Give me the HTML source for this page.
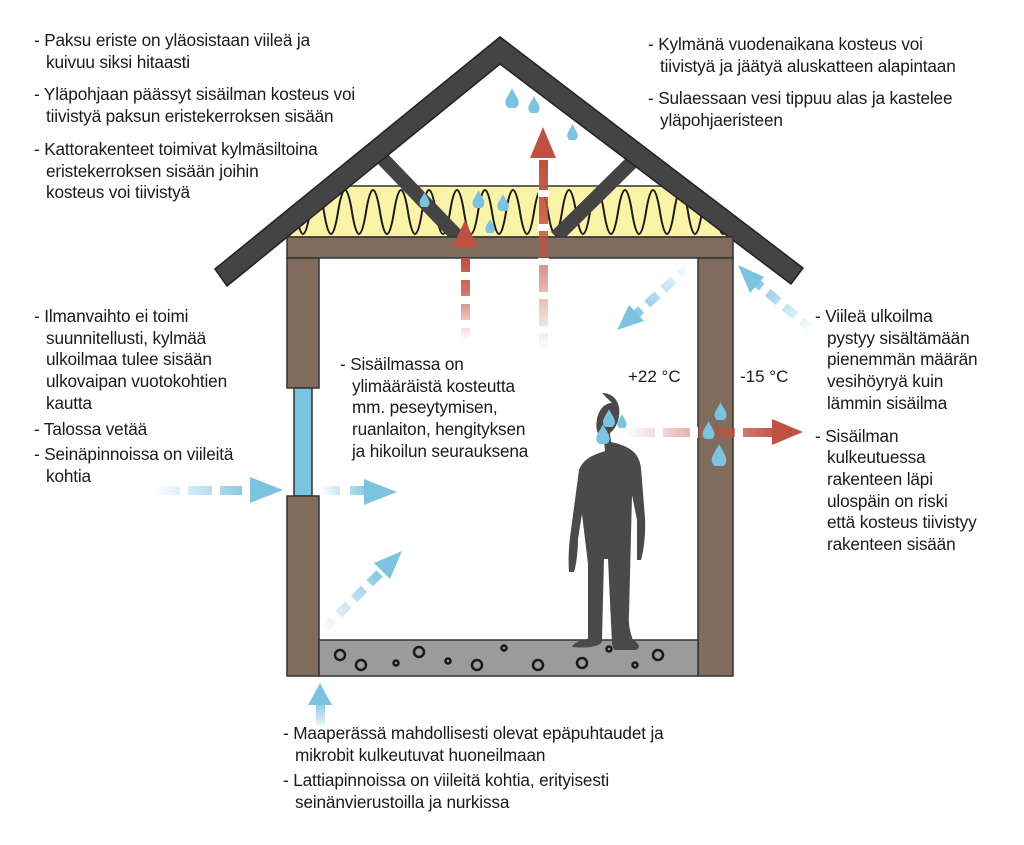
<!DOCTYPE html>
<html><head><meta charset="utf-8"><style>
body{margin:0;width:1024px;height:845px;background:#fff;position:relative;overflow:hidden;font-family:"Liberation Sans",sans-serif;color:#1a1a1a}
.t{position:absolute;font-size:17.2px;line-height:21.7px;letter-spacing:-0.15px;white-space:nowrap}
.t p{margin:0 0 11px 0;padding-left:12px;text-indent:-12px}
svg{position:absolute;left:0;top:0}
</style></head><body>
<svg width="1024" height="845" viewBox="0 0 1024 845">
<defs>
<clipPath id="ins"><polygon points="227,286 500,64 791,284"/></clipPath>
<linearGradient id="ru" x1="0" y1="1" x2="0" y2="0"><stop offset="0" stop-color="#c0503f" stop-opacity="0"/><stop offset="0.6" stop-color="#c0503f" stop-opacity="0.8"/><stop offset="1" stop-color="#c0503f"/></linearGradient>
<linearGradient id="rr" x1="0" y1="0" x2="1" y2="0"><stop offset="0" stop-color="#c0503f" stop-opacity="0"/><stop offset="1" stop-color="#c0503f"/></linearGradient>
<linearGradient id="br" x1="0" y1="0" x2="1" y2="0"><stop offset="0" stop-color="#7cc3e0" stop-opacity="0"/><stop offset="1" stop-color="#7cc3e0"/></linearGradient>
<linearGradient id="bu" x1="0" y1="1" x2="0" y2="0"><stop offset="0" stop-color="#7cc3e0" stop-opacity="0.2"/><stop offset="1" stop-color="#7cc3e0"/></linearGradient>
<linearGradient id="bd1" x1="0" y1="1" x2="1" y2="0"><stop offset="0" stop-color="#7cc3e0" stop-opacity="0"/><stop offset="1" stop-color="#7cc3e0"/></linearGradient>
<linearGradient id="bd2" x1="1" y1="0" x2="0" y2="1"><stop offset="0" stop-color="#7cc3e0" stop-opacity="0"/><stop offset="1" stop-color="#7cc3e0"/></linearGradient>
<linearGradient id="bd3" x1="1" y1="1" x2="0" y2="0"><stop offset="0" stop-color="#7cc3e0" stop-opacity="0"/><stop offset="1" stop-color="#7cc3e0"/></linearGradient>
<symbol id="drop" viewBox="-6 -10 12 18"><path d="M0,-10 C2,-5 6,-1 6,3 A6,6 0 0 1 -6,3 C-6,-1 -2,-5 0,-10Z" fill="#7cc3e0"/></symbol>
</defs>
<g clip-path="url(#ins)">
<rect x="220" y="186" width="580" height="51" fill="#fbf3a8" stroke="#333" stroke-width="1.5"/>
<path d="M282,212 q7,-44 14,0 t14,0 t14,0 t14,0 t14,0 t14,0 t14,0 t14,0 t14,0 t14,0 t14,0 t14,0 t14,0 t14,0 t14,0 t14,0 t14,0 t14,0 t14,0 t14,0 t14,0 t14,0 t14,0 t14,0 t14,0 t14,0 t14,0 t14,0 t14,0 t14,0 t14,0 t14,0 t14,0" fill="none" stroke="#1a1a1a" stroke-width="2"/>
</g>
<line x1="380" y1="156" x2="458" y2="237" stroke="#444" stroke-width="14"/>
<line x1="636" y1="158" x2="556" y2="237" stroke="#444" stroke-width="14"/>
<polygon points="215,269 500,37 803,268 791,284 500,64 227,286" fill="#444" stroke="#222" stroke-width="1.5"/>
<rect x="287" y="237" width="446" height="21" fill="#806c5c" stroke="#333" stroke-width="1.5"/>
<rect x="287" y="258" width="32" height="130" fill="#806c5c" stroke="#333" stroke-width="1.5"/>
<rect x="294" y="388" width="18" height="108" fill="#7cc3e0" stroke="#333" stroke-width="1.5"/>
<rect x="287" y="496" width="32" height="180" fill="#806c5c" stroke="#333" stroke-width="1.5"/>
<rect x="698" y="258" width="35" height="418" fill="#806c5c" stroke="#333" stroke-width="1.5"/>
<rect x="319" y="640" width="379" height="36" fill="#9b9b9b" stroke="#333" stroke-width="1.5"/>
<g fill="none" stroke="#1a1a1a" stroke-width="2.5">
<circle cx="340" cy="655" r="5"/><circle cx="361" cy="665" r="5"/><circle cx="396" cy="663" r="2.5"/><circle cx="419" cy="652" r="5"/><circle cx="448" cy="661" r="2.5"/><circle cx="477" cy="665" r="5"/><circle cx="504" cy="648" r="2.5"/><circle cx="538" cy="665" r="5"/><circle cx="582" cy="663" r="5"/><circle cx="609" cy="649" r="2.5"/><circle cx="635" cy="665" r="2.5"/><circle cx="658" cy="655" r="5"/>
</g>
<g fill="url(#ru)">
<rect x="461" y="258" width="9" height="82" />
<rect x="539" y="160" width="9" height="190"/>
</g>
<g fill="#fff"><rect x="460" y="272" width="11" height="8"/><rect x="460" y="296" width="11" height="8"/><rect x="460" y="320" width="11" height="8"/><rect x="538" y="190" width="11" height="7"/><rect x="538" y="224" width="11" height="7"/><rect x="538" y="258" width="11" height="7"/><rect x="538" y="292" width="11" height="7"/><rect x="538" y="326" width="11" height="7"/></g>
<polygon points="465,220 478,248 452,248" fill="#c0503f"/>
<polygon points="543,127 556,158 530,158" fill="#c0503f"/>
<rect x="625" y="428" width="155" height="9" fill="url(#rr)"/>
<g fill="#fff"><rect x="655" y="427" width="8" height="11"/><rect x="690" y="427" width="8" height="11"/><rect x="735" y="427" width="8" height="11"/></g>
<polygon points="803,432 772,419 772,445" fill="#c0503f"/>
<rect x="155" y="486" width="100" height="9" fill="url(#br)"/>
<g fill="#fff"><rect x="180" y="485" width="8" height="11"/><rect x="212" y="485" width="8" height="11"/><rect x="242" y="485" width="8" height="11"/></g>
<polygon points="283,490 250,477 250,503" fill="#7cc3e0"/>
<rect x="320" y="486" width="50" height="9" fill="url(#br)"/>
<rect x="340" y="485" width="10" height="11" fill="#fff"/>
<polygon points="397,492 364,479 364,505" fill="#7cc3e0"/>
<line x1="323" y1="630" x2="385" y2="568" stroke="url(#bd1)" stroke-width="9" stroke-dasharray="14,8"/>
<polygon points="402,551 374,563 390,579" fill="#7cc3e0"/>
<rect x="316" y="700" width="9" height="25" fill="url(#bu)"/>
<polygon points="320,683 332,705 308,705" fill="#7cc3e0"/>
<line x1="690" y1="265" x2="632" y2="318" stroke="url(#bd2)" stroke-width="9" stroke-dasharray="14,8"/>
<polygon points="617,330 629,305 644,321" fill="#7cc3e0"/>
<line x1="812" y1="330" x2="752" y2="279" stroke="url(#bd3)" stroke-width="9" stroke-dasharray="14,8"/>
<polygon points="738,265 764,277 750,293" fill="#7cc3e0"/>
<path d="M602,393 c13,0 19,11 17,23 c-1,8 -5,14 -9,17 l1,9 c18,4 28,10 30,26 l4,50 c1,18 -2,36 -4,42 l-4,0 l0,-40 l-5,-25 l-3,120 c-1,10 2,20 4,25 c6,3 8,8 3,10 l-22,0 l-2,-6 l-4,-85 l-4,0 l-2,80 c2,6 -10,10 -30,8 c2,-5 12,-8 16,-8 l0,-75 l-6,-50 l-4,25 c0,12 -2,28 -4,33 l-5,0 c-1,-12 0,-30 2,-42 l8,-60 c5,-12 14,-15 26,-19 l-1,-10 c-6,-4 -9,-12 -7,-22 c2,-10 8,-16 15,-16Z" fill="#4a4a4a"/>
<g>
<use href="#drop" x="603" y="409" width="12" height="18"/>
<use href="#drop" x="617" y="414" width="10" height="14"/>
<use href="#drop" x="596" y="424" width="14" height="20"/>
<use href="#drop" x="714" y="402" width="13" height="18"/>
<use href="#drop" x="702" y="421" width="13" height="18"/>
<use href="#drop" x="711" y="444" width="16" height="22"/>
<use href="#drop" x="505" y="88" width="14" height="20"/>
<use href="#drop" x="528" y="96" width="12" height="17"/>
<use href="#drop" x="567" y="124" width="11" height="16"/>
<use href="#drop" x="419" y="192" width="11" height="15"/>
<use href="#drop" x="472" y="190" width="13" height="18"/>
<use href="#drop" x="497" y="194" width="12" height="17"/>
<use href="#drop" x="485" y="219" width="10" height="14"/>
</g>
<text x="628" y="382" font-family="Liberation Sans,sans-serif" font-size="17" fill="#1a1a1a">+22 °C</text>
<text x="740" y="382" font-family="Liberation Sans,sans-serif" font-size="17" fill="#1a1a1a">-15 °C</text>
</svg>
<div class="t" style="left:34px;top:30px"><p>- Paksu eriste on yläosistaan viileä ja<br>kuivuu siksi hitaasti</p><p>- Yläpohjaan päässyt sisäilman kosteus voi<br>tiivistyä paksun eristekerroksen sisään</p><p>- Kattorakenteet toimivat kylmäsiltoina<br>eristekerroksen sisään joihin<br>kosteus voi tiivistyä</p></div>
<div class="t" style="left:648px;top:34px"><p>- Kylmänä vuodenaikana kosteus voi<br>tiivistyä ja jäätyä aluskatteen alapintaan</p><p>- Sulaessaan vesi tippuu alas ja kastelee<br>yläpohjaeristeen</p></div>
<div class="t" style="left:34px;top:306px"><p style="margin-bottom:4px">- Ilmanvaihto ei toimi<br>suunnitellusti, kylmää<br>ulkoilmaa tulee sisään<br>ulkovaipan vuotokohtien<br>kautta</p><p style="margin-bottom:4px">- Talossa vetää</p><p>- Seinäpinnoissa on viileitä<br>kohtia</p></div>
<div class="t" style="left:340px;top:354px"><p>- Sisäilmassa on<br>ylimääräistä kosteutta<br>mm. peseytymisen,<br>ruanlaiton, hengityksen<br>ja hikoilun seurauksena</p></div>
<div class="t" style="left:815px;top:306px"><p>- Viileä ulkoilma<br>pystyy sisältämään<br>pienemmän määrän<br>vesihöyryä kuin<br>lämmin sisäilma</p><p>- Sisäilman<br>kulkeutuessa<br>rakenteen läpi<br>ulospäin on riski<br>että kosteus tiivistyy<br>rakenteen sisään</p></div>
<div class="t" style="left:283px;top:723px"><p style="margin-bottom:4px">- Maaperässä mahdollisesti olevat epäpuhtaudet ja<br>mikrobit kulkeutuvat huoneilmaan</p><p>- Lattiapinnoissa on viileitä kohtia, erityisesti<br>seinänvierustoilla ja nurkissa</p></div>
</body></html>
